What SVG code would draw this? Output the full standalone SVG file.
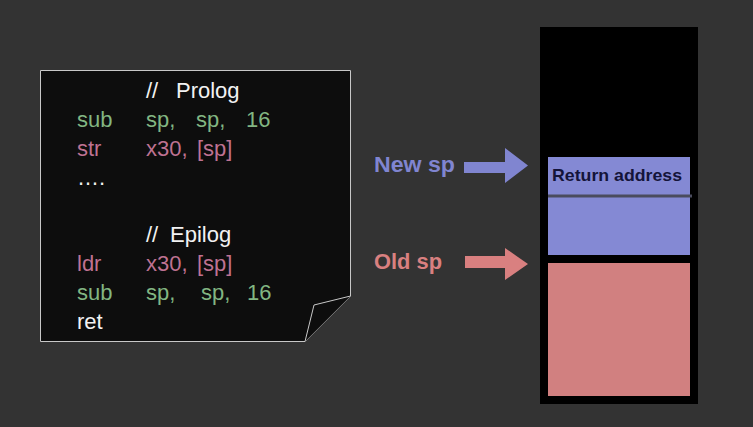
<svg xmlns="http://www.w3.org/2000/svg" width="753" height="427" viewBox="0 0 753 427">
<style>
.code{font-family:"Liberation Sans",Arial,sans-serif;font-size:22px}
.g{fill:#82b682}
.p{fill:#bf7292}
.w{fill:#f2f2f2}
.lbl{font-family:"Liberation Sans",Arial,sans-serif;font-size:22px;font-weight:bold}
</style>
<rect width="753" height="427" fill="#333333"/>
<g id="code-note">
<path d="M40.5 70.5 H350.5 V296 L305 341.5 H40.5 Z" fill="#0d0d0d" stroke="#c8c8c8" stroke-width="1"/>
<path d="M350.5 296 L314 305 L305 341.5" fill="#0d0d0d" stroke="#c8c8c8" stroke-width="1"/>
<text class="code w" x="146" y="98">//</text>
<text class="code w" x="176" y="98">Prolog</text>
<text class="code g" x="77" y="127">sub</text>
<text class="code g" x="146" y="127">sp,</text>
<text class="code g" x="196" y="127">sp,</text>
<text class="code g" x="246" y="127">16</text>
<text class="code p" x="77" y="156">str</text>
<text class="code p" x="146" y="156">x30,</text>
<text class="code p" x="197" y="156">[sp]</text>
<text class="code w" x="77" y="185">….</text>
<text class="code w" x="146" y="242">//</text>
<text class="code w" x="170" y="242">Epilog</text>
<text class="code p" x="77" y="271">ldr</text>
<text class="code p" x="146" y="271">x30,</text>
<text class="code p" x="197" y="271">[sp]</text>
<text class="code g" x="77" y="300">sub</text>
<text class="code g" x="146" y="300">sp,</text>
<text class="code g" x="201" y="300">sp,</text>
<text class="code g" x="247" y="300">16</text>
<text class="code w" x="77" y="329">ret</text>
</g>
<g id="stack">
<rect x="540" y="27" width="158" height="377" fill="#000000"/>
<rect x="548" y="157" width="142" height="98" fill="#8489d4"/>
<line x1="548" y1="196" x2="692" y2="196" stroke="#4a4c5e" stroke-width="3"/>
<rect x="548" y="263" width="142" height="133" fill="#d18080"/>
<text x="552" y="181" font-family="'Liberation Sans',Arial,sans-serif" font-size="17" font-weight="bold" fill="#14143a" textLength="130" lengthAdjust="spacingAndGlyphs">Return address</text>
</g>
<g id="new-sp">
<text class="lbl" x="374" y="172" fill="#8085d0" textLength="81" lengthAdjust="spacingAndGlyphs">New sp</text>
</g>
<g id="old-sp">
<text class="lbl" x="374" y="269" fill="#d98080" textLength="68" lengthAdjust="spacingAndGlyphs">Old sp</text>
</g>
<g id="connectors">
<polygon points="464,162 505,162 505,148 528,165.5 505,183 505,173 464,173" fill="#8085d0"/>
<polygon points="465,256 505,256 505,248 528,264 505,280 505,268 465,268" fill="#d98080"/>
</g>
</svg>
